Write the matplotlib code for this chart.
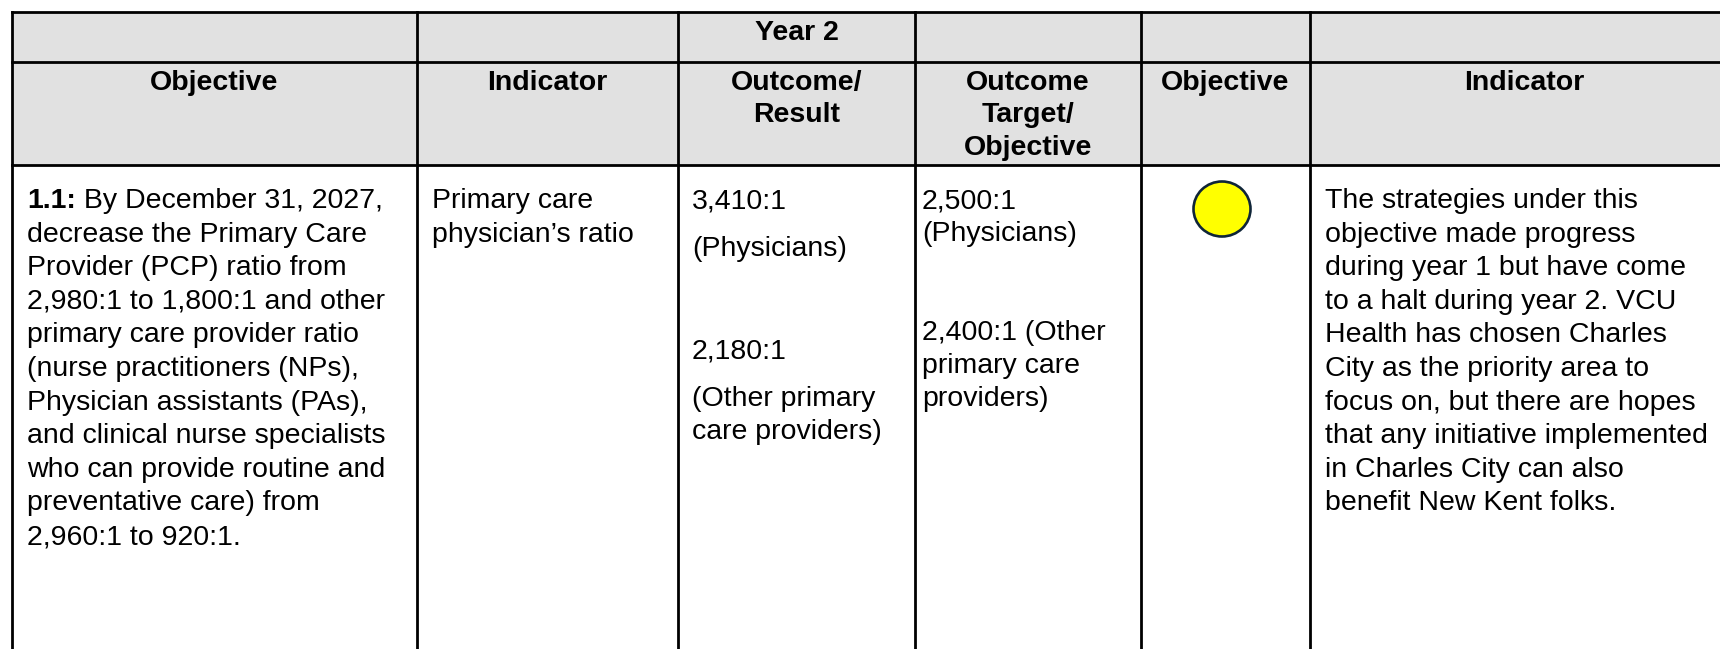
import matplotlib
matplotlib.use('Agg')
from matplotlib import pyplot as plt
from matplotlib.patches import Rectangle, Ellipse

plt.rcParams['font.family'] = ['Liberation Sans', 'DejaVu Sans']

# ---- table content ----
group_row = ['', '', 'Year 2', '', '', '']
headers = [['Objective'],
           ['Indicator'],
           ['Outcome/', 'Result'],
           ['Outcome', 'Target/', 'Objective'],
           ['Objective'],
           ['Indicator']]

objective_id = '1.1:'
objective_lines = [' By December 31, 2027,',
                   'decrease the Primary Care',
                   'Provider (PCP) ratio from',
                   '2,980:1 to 1,800:1 and other',
                   'primary care provider ratio',
                   '(nurse practitioners (NPs),',
                   'Physician assistants (PAs),',
                   'and clinical nurse specialists',
                   'who can provide routine and',
                   'preventative care) from',
                   '2,960:1 to 920:1.']
indicator_lines = ['Primary care', 'physician\u2019s ratio']
result_lines = ['3,410:1', '(Physicians)', '2,180:1', '(Other primary', 'care providers)']
target_lines = ['2,500:1', '(Physicians)', '2,400:1 (Other', 'primary care', 'providers)']
status_color = '#FFFF00'
comment_lines = ['The strategies under this',
                 'objective made progress',
                 'during year 1 but have come',
                 'to a halt during year 2. VCU',
                 'Health has chosen Charles',
                 'City as the priority area to',
                 'focus on, but there are hopes',
                 'that any initiative implemented',
                 'in Charles City can also',
                 'benefit New Kent folks.']

# ---- layout (pixels) ----
W, H = 1720, 649
col_x = [12, 417, 678, 915, 1141, 1310, 1738]
row_y = [12, 62, 165, 700]
pad = [15, 15, 14, 7, 15, 15]
FS = 20.5
LW = 2.0
LINE = 33.6
TOP = 208
header_bg = '#E1E1E1'

fig = plt.figure(figsize=(W / 100, H / 100), dpi=100)
ax = fig.add_axes([0, 0, 1, 1])
ax.set_xlim(0, W)
ax.set_ylim(H, 0)
ax.axis('off')

# header background
ax.add_patch(Rectangle((col_x[0], row_y[0]), col_x[-1] - col_x[0], row_y[2] - row_y[0],
                       facecolor=header_bg, edgecolor='none', zorder=0))

# grid
for y in row_y[:3]:
    ax.plot([col_x[0], col_x[-1]], [y, y], color='black', lw=LW, solid_capstyle='projecting')
for x in col_x:
    ax.plot([x, x], [row_y[0], row_y[-1]], color='black', lw=LW, solid_capstyle='projecting')

# header texts
for i, label in enumerate(group_row):
    if label:
        ax.text((col_x[i] + col_x[i + 1]) / 2, 40, label, ha='center', va='baseline',
                fontsize=FS, fontweight='bold')
for i, lines in enumerate(headers):
    cx = (col_x[i] + col_x[i + 1]) / 2
    for j, line in enumerate(lines):
        ax.text(cx, 90 + j * 32.5, line, ha='center', va='baseline',
                fontsize=FS, fontweight='bold')

# objective column
x0 = col_x[0] + pad[0]
t = ax.text(x0, TOP, objective_id, ha='left', va='baseline', fontsize=FS, fontweight='bold')
fig.canvas.draw()
bb = t.get_window_extent(renderer=fig.canvas.get_renderer())
for j, line in enumerate(objective_lines):
    xx = bb.x1 if j == 0 else x0
    ax.text(xx, TOP + j * LINE, line, ha='left', va='baseline', fontsize=FS)

# indicator column
for j, line in enumerate(indicator_lines):
    ax.text(col_x[1] + pad[1], TOP + j * LINE, line, ha='left', va='baseline', fontsize=FS)

# outcome / result
for line, y in zip(result_lines, [209, 256, 358, 406, 439]):
    ax.text(col_x[2] + pad[2], y, line, ha='left', va='baseline', fontsize=FS)

# outcome target
for line, y in zip(target_lines, [209, 241, 340, 373, 406]):
    ax.text(col_x[3] + pad[3], y, line, ha='left', va='baseline', fontsize=FS)

# status circle
ax.add_patch(Ellipse((1222, 209), 57, 55,
                     facecolor=status_color, edgecolor='#0f2538', lw=1.9, zorder=3))

# comment column
for j, line in enumerate(comment_lines):
    ax.text(col_x[5] + pad[5], TOP + j * LINE, line, ha='left', va='baseline', fontsize=FS)

fig.savefig('out.png', dpi=100)
